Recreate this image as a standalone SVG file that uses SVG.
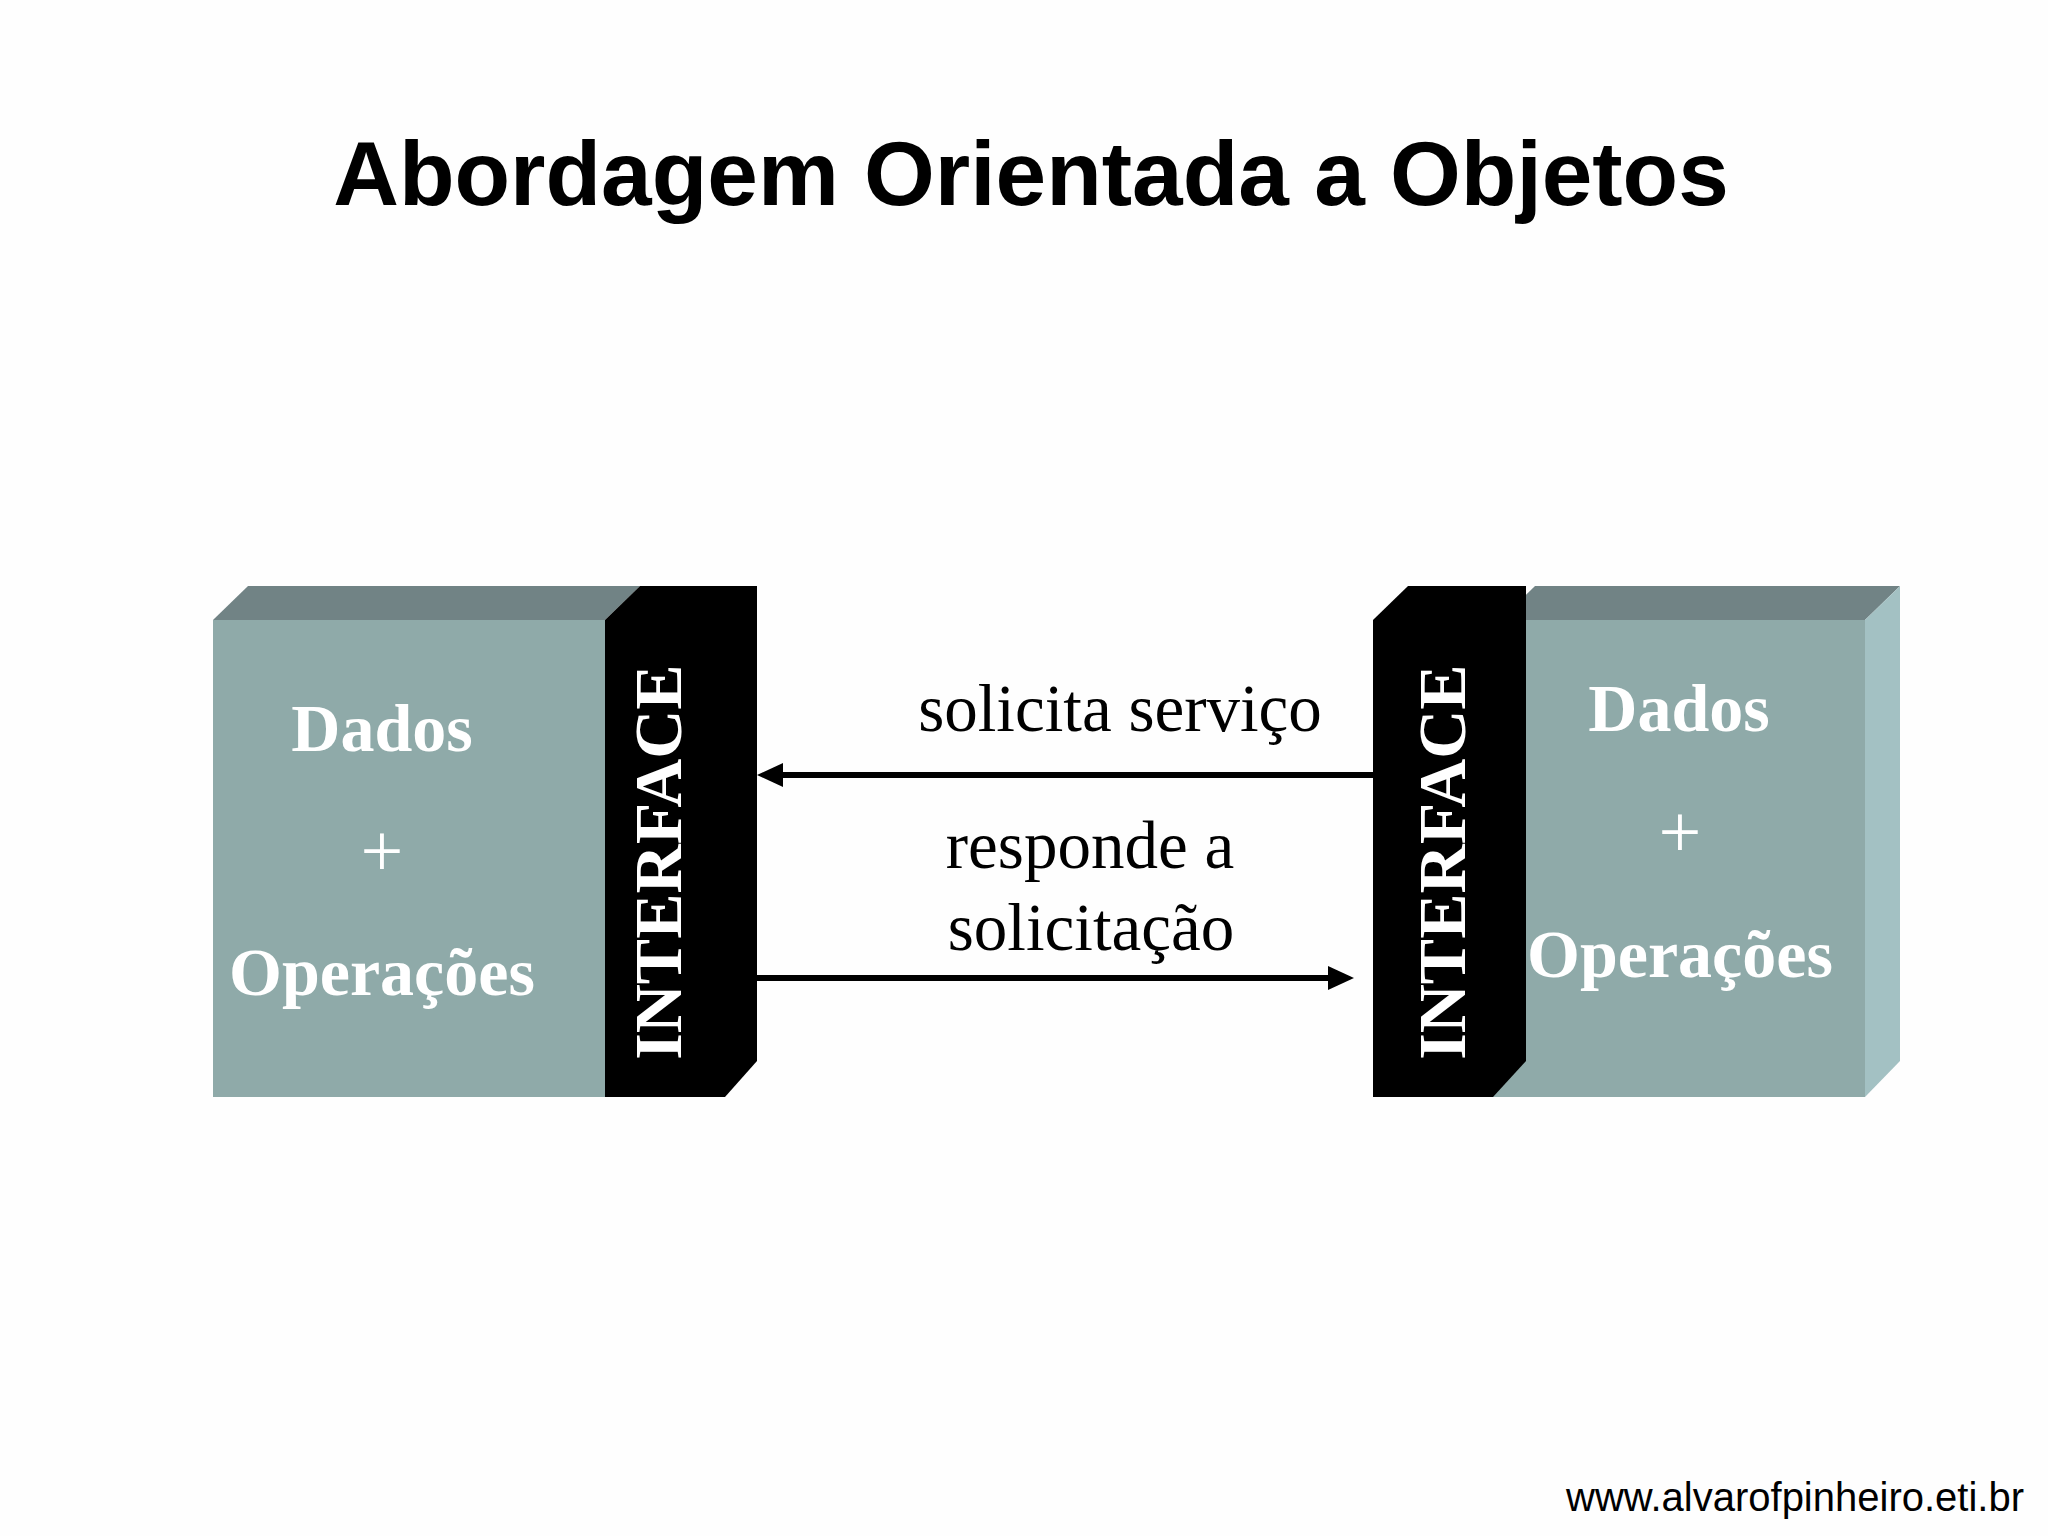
<svg xmlns="http://www.w3.org/2000/svg" width="2048" height="1536" viewBox="0 0 2048 1536">
<defs>
<style>
.front{fill:#8faaa9}
.top{fill:#718385}
.side{fill:#a3c1c3}
.iface{fill:#000}
.box-t{font-family:"Liberation Serif",serif;font-weight:bold;font-size:68px;fill:#fff;text-anchor:middle}
.plus{font-family:"Liberation Serif",serif;font-size:76px;fill:#fff;text-anchor:middle}
.if-t{font-family:"Liberation Serif",serif;font-weight:bold;font-size:68px;fill:#fff;text-anchor:middle}
.lbl{font-family:"Liberation Serif",serif;font-size:67px;fill:#000;text-anchor:middle}
.conn{stroke:#000;stroke-width:6;fill:none}
</style>
<marker id="ah" viewBox="0 0 26 24" refX="0" refY="12" markerWidth="26" markerHeight="24" markerUnits="userSpaceOnUse" orient="auto">
<path d="M0,0 L26,12 L0,24 z" fill="#000"/>
</marker>
</defs>
<rect width="2048" height="1536" fill="#fefefe"/>
<text x="1031" y="205" font-family="'Liberation Sans',Arial,sans-serif" font-weight="bold" font-size="91" text-anchor="middle" fill="#000">Abordagem Orientada a Objetos</text>

<g id="objeto-esquerdo">
<polygon class="top" points="213,620 248,586 640,586 605,620"/>
<rect class="front" x="213" y="620" width="392" height="477"/>
<text class="box-t" x="382" y="751">Dados</text>
<text class="plus" x="382" y="876">+</text>
<text class="box-t" x="382" y="995">Operações</text>
</g>
<g id="interface-esquerda">
<polygon class="iface" points="605,620 640,586 757,586 757,1061 725,1097 605,1097"/>
<text class="if-t" transform="translate(681,862) rotate(-90)">INTERFACE</text>
</g>

<g id="objeto-direito">
<polygon class="top" points="1500,620 1535,586 1900,586 1865,620"/>
<rect class="front" x="1490" y="620" width="375" height="477"/>
<polygon class="side" points="1865,620 1900,586 1900,1061 1865,1097"/>
<text class="box-t" x="1679" y="731">Dados</text>
<text class="plus" x="1680" y="857">+</text>
<text class="box-t" x="1680" y="977">Operações</text>
</g>
<g id="interface-direita">
<polygon class="iface" points="1373,620 1408,586 1526,586 1526,1061 1493,1097 1373,1097"/>
<text class="if-t" transform="translate(1465,862) rotate(-90)">INTERFACE</text>
</g>

<g id="conectores">
<path class="conn" d="M1373,775 L783,775" marker-end="url(#ah)"/>
<path class="conn" d="M757,978 L1328,978" marker-end="url(#ah)"/>
<text class="lbl" x="1120" y="731">solicita serviço</text>
<text class="lbl" x="1090" y="868">responde a</text>
<text class="lbl" x="1091" y="950">solicitação</text>
</g>

<text x="2024" y="1511" font-family="'Liberation Sans',Arial,sans-serif" font-size="40" text-anchor="end" fill="#000">www.alvarofpinheiro.eti.br</text>
</svg>
